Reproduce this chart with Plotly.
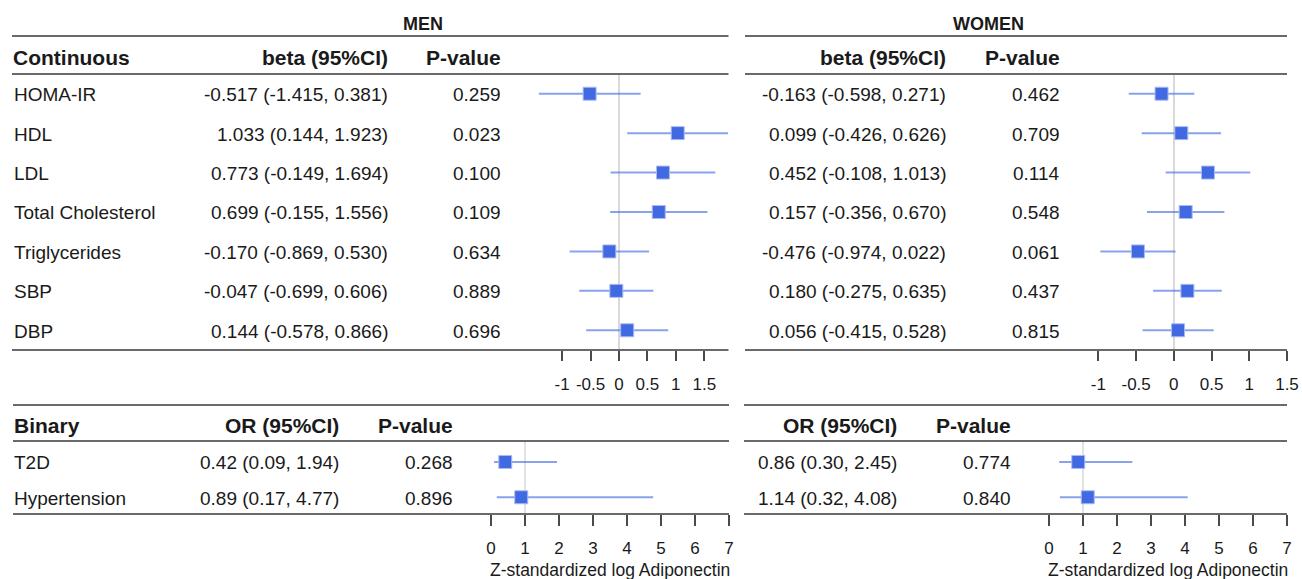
import plotly.graph_objects as go

W, H = 1302, 579

# ---------------- data ----------------
cont_labels = ["HOMA-IR", "HDL", "LDL", "Total Cholesterol", "Triglycerides", "SBP", "DBP"]
men_beta = [-0.517, 1.033, 0.773, 0.699, -0.170, -0.047, 0.144]
men_beta_lo = [-1.415, 0.144, -0.149, -0.155, -0.869, -0.699, -0.578]
men_beta_hi = [0.381, 1.923, 1.694, 1.556, 0.530, 0.606, 0.866]
men_beta_p = ["0.259", "0.023", "0.100", "0.109", "0.634", "0.889", "0.696"]
women_beta = [-0.163, 0.099, 0.452, 0.157, -0.476, 0.180, 0.056]
women_beta_lo = [-0.598, -0.426, -0.108, -0.356, -0.974, -0.275, -0.415]
women_beta_hi = [0.271, 0.626, 1.013, 0.670, 0.022, 0.635, 0.528]
women_beta_p = ["0.462", "0.709", "0.114", "0.548", "0.061", "0.437", "0.815"]

bin_labels = ["T2D", "Hypertension"]
men_or = [0.42, 0.89]
men_or_lo = [0.09, 0.17]
men_or_hi = [1.94, 4.77]
men_or_p = ["0.268", "0.896"]
women_or = [0.86, 1.14]
women_or_lo = [0.30, 0.32]
women_or_hi = [2.45, 4.08]
women_or_p = ["0.774", "0.840"]

cont_ticks = [-1, -0.5, 0, 0.5, 1, 1.5]
cont_ticktext = ["-1", "-0.5", "0", "0.5", "1", "1.5"]
bin_ticks = [0, 1, 2, 3, 4, 5, 6, 7]
axis_title = "Z-standardized log Adiponectin"

# ---------------- helpers ----------------
def px(x):
    return x / W

def py(y):
    return 1 - y / H

FONT = "Liberation Sans, Arial, sans-serif"
TXT = "#1a1a1a"
BODY = 19
HEAD = 21
MARK = "#4169E1"
CI = "rgba(65,105,225,0.62)"
LINE = "#6a6a6a"
REF = "#d9d9d9"

fmt3 = lambda v: f"{v:.3f}"
fmt2 = lambda v: f"{v:.2f}"

fig = go.Figure()

def forest(est, lo, hi, xa, ya):
    rows = list(range(1, len(est) + 1))
    fig.add_trace(go.Scatter(
        x=est, y=rows, mode="markers", xaxis=xa, yaxis=ya,
        marker=dict(symbol="square", size=13, color=MARK,
                    line=dict(color="#a9bbf2", width=1)),
        error_x=dict(type="data", symmetric=False,
                     array=[h - e for h, e in zip(hi, est)],
                     arrayminus=[e - l for e, l in zip(est, lo)],
                     width=0, thickness=2, color=CI),
        showlegend=False, hoverinfo="skip", cliponaxis=True))

forest(men_beta, men_beta_lo, men_beta_hi, "x", "y")
forest(women_beta, women_beta_lo, women_beta_hi, "x2", "y2")
forest(men_or, men_or_lo, men_or_hi, "x3", "y3")
forest(women_or, women_or_lo, women_or_hi, "x4", "y4")

# ---------------- axes ----------------
cont_dom = [py(350), py(74)]
bin_dom = [py(514), py(441)]
tickfont = dict(family=FONT, size=17, color=TXT)

def xax(domain, rng, tickvals, ticktext, anchor, zl, standoff, tl):
    return dict(domain=domain, range=rng, anchor=anchor, tickvals=tickvals,
                ticktext=ticktext, ticks="outside", ticklen=tl, tickwidth=1.5,
                tickcolor="#4a4a4a", showline=False, showgrid=False,
                zeroline=zl, zerolinecolor=REF, zerolinewidth=1.5,
                tickfont=tickfont, ticklabelstandoff=standoff, fixedrange=True,
                automargin=False)

def yax(domain, rng, anchor):
    return dict(domain=domain, range=rng, anchor=anchor, visible=False,
                showgrid=False, zeroline=False, fixedrange=True, automargin=False)

fig.update_layout(
    xaxis=xax([px(538.6), px(728.3)], [-1.415, 1.923], cont_ticks, cont_ticktext, "y", True, 9, 10),
    yaxis=yax(cont_dom, [7.5, 0.5], "x"),
    xaxis2=xax([px(1098.4), px(1287)], [-1.0, 1.5], cont_ticks, cont_ticktext, "y2", True, 9, 10),
    yaxis2=yax(cont_dom, [7.5, 0.5], "x2"),
    xaxis3=xax([px(491), px(729)], [0, 7], bin_ticks, [str(t) for t in bin_ticks], "y3", False, 8, 11),
    yaxis3=yax(bin_dom, [2.475, 0.405], "x3"),
    xaxis4=xax([px(1049), px(1287)], [0, 7], bin_ticks, [str(t) for t in bin_ticks], "y4", False, 8, 11),
    yaxis4=yax(bin_dom, [2.475, 0.405], "x4"),
)

# reference lines at OR = 1
for xa in ("x3", "x4"):
    fig.add_shape(type="line", xref=xa, x0=1, x1=1, yref=f"y{xa[1:]} domain", y0=0, y1=1,
                  line=dict(color=REF, width=1.5), layer="below")

# ---------------- table lines ----------------
def hline(x0, x1, y):
    fig.add_shape(type="line", xref="paper", yref="paper", x0=px(x0), x1=px(x1),
                  y0=py(y), y1=py(y), line=dict(color=LINE, width=2))

for y in (36, 74, 350):
    hline(12, 728.5, y)
    hline(745, 1287, y)
for y in (405, 441, 514):
    hline(13, 729, y)
    hline(744, 1287, y)

# ---------------- text ----------------
def txt(text, x, y, anchor="left", size=BODY, bold=False, yref="paper", yshift=-1):
    fig.add_annotation(text=f"<b>{text}</b>" if bold else text,
                       x=px(x), xref="paper", y=y if yref != "paper" else py(y), yref=yref,
                       xanchor=anchor, yanchor="middle", showarrow=False, yshift=yshift,
                       font=dict(family=FONT, size=size, color=TXT), borderpad=0)

txt("MEN", 423, 23, "center", 18, True)
txt("WOMEN", 988, 23, "center", 18, True)

txt("Continuous", 12, 56, "left", HEAD, True)
txt("beta (95%CI)", 389, 56, "right", HEAD, True)
txt("P-value", 502, 56, "right", HEAD, True)
txt("beta (95%CI)", 947, 56, "right", HEAD, True)
txt("P-value", 1061, 56, "right", HEAD, True)

txt("Binary", 13, 424, "left", HEAD, True)
txt("OR (95%CI)", 340, 424, "right", HEAD, True)
txt("P-value", 454, 424, "right", HEAD, True)
txt("OR (95%CI)", 898, 424, "right", HEAD, True)
txt("P-value", 1012, 424, "right", HEAD, True)

for i, lab in enumerate(cont_labels):
    r = i + 1
    txt(lab, 13, r, "left", yref="y")
    txt(f"{fmt3(men_beta[i])} ({fmt3(men_beta_lo[i])}, {fmt3(men_beta_hi[i])})", 389, r, "right", yref="y")
    txt(men_beta_p[i], 502, r, "right", yref="y")
    txt(f"{fmt3(women_beta[i])} ({fmt3(women_beta_lo[i])}, {fmt3(women_beta_hi[i])})", 947, r, "right", yref="y2")
    txt(women_beta_p[i], 1061, r, "right", yref="y2")

for i, lab in enumerate(bin_labels):
    r = i + 1
    txt(lab, 13, r, "left", yref="y3")
    txt(f"{fmt2(men_or[i])} ({fmt2(men_or_lo[i])}, {fmt2(men_or_hi[i])})", 340, r, "right", yref="y3")
    txt(men_or_p[i], 454, r, "right", yref="y3")
    txt(f"{fmt2(women_or[i])} ({fmt2(women_or_lo[i])}, {fmt2(women_or_hi[i])})", 898, r, "right", yref="y4")
    txt(women_or_p[i], 1012, r, "right", yref="y4")

txt(axis_title, 610, 570, "center", 17.5, yshift=0)
txt(axis_title, 1168, 570, "center", 17.5, yshift=0)

fig.update_layout(width=W, height=H, margin=dict(l=0, r=0, t=0, b=0, autoexpand=False),
                  paper_bgcolor="white", plot_bgcolor="white", showlegend=False)

fig.write_html("out.html", config={"displayModeBar": False})
